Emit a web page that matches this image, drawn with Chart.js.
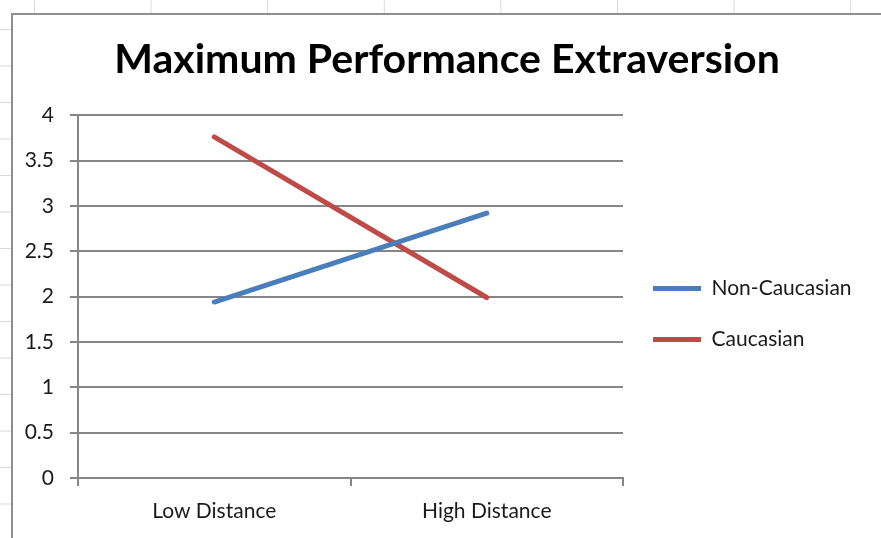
<!DOCTYPE html>
<html lang="en">
<head>
  <meta charset="UTF-8">
  <title>Maximum Performance Extraversion</title>
  <script src="https://cdn.jsdelivr.net/npm/chart.js"></script>
  <style>
    html, body {
      margin: 0;
      padding: 0;
    }

    /* spreadsheet cells behind the chart */
    body {
      width: 881px;
      height: 538px;
      overflow: hidden;
      position: relative;
      background-color: #fff;
      background-image:
        linear-gradient(to right, #d9d9d9 1px, transparent 1px),
        linear-gradient(to bottom, #d9d9d9 1px, transparent 1px);
      background-size: 116.6px 36.5px;
      background-position: 34px 29px;
    }

    .chart-box {
      position: absolute;
      left: 11px;
      top: 13px;
      width: 880px;
      height: 600px;
      background: #fff;
      border-left: 2px solid #8f8f8f;
      border-top: 2px solid #8f8f8f;
    }

    canvas {
      display: block;
    }
  </style>
</head>
<body>

<div class="chart-box">
  <canvas id="extraversionChart" width="868" height="598"></canvas>
</div>

<script>
  // values
  const categories = ['Low Distance', 'High Distance'];
  const nonCaucasian = [1.94, 2.92];
  const caucasian = [3.76, 1.99];
  const yTickValues = [0, 0.5, 1, 1.5, 2, 2.5, 3, 3.5, 4];

  const labelFont = { family: 'Lato', size: 21 };
  const gridGray = '#868686';

  // give the right-hand legend a fixed width so the plot ends where Excel's does
  const legendWidth = {
    id: 'legendWidth',
    beforeInit(chart) {
      const fit = chart.legend.fit;
      chart.legend.fit = function () {
        fit.bind(chart.legend)();
        this.width = 258;
      };
    }
  };

  const ctx = document.getElementById('extraversionChart').getContext('2d');

  new Chart(ctx, {
    type: 'line',
    data: {
      labels: categories,
      datasets: [
        {
          label: 'Non-Caucasian',
          data: nonCaucasian,
          borderColor: '#4a7ebb',
          backgroundColor: '#4a7ebb',
          borderWidth: 5,
          borderCapStyle: 'round',
          pointRadius: 0,
          tension: 0
        },
        {
          label: 'Caucasian',
          data: caucasian,
          borderColor: '#be4b48',
          backgroundColor: '#be4b48',
          borderWidth: 5,
          borderCapStyle: 'round',
          pointRadius: 0,
          tension: 0
        }
      ]
    },
    plugins: [legendWidth],
    options: {
      responsive: false,
      animation: false,
      layout: {
        padding: 0
      },
      plugins: {
        title: {
          display: true,
          text: 'Maximum Performance Extraversion',
          color: '#000',
          font: { family: 'Lato', size: 41, weight: 'bold' },
          padding: { top: 20, bottom: 31 }
        },
        legend: {
          position: 'right',
          labels: {
            usePointStyle: true,
            pointStyle: 'line',
            pointStyleWidth: 48,
            padding: 30,
            color: '#1a1a1a',
            font: labelFont
          }
        },
        tooltip: { enabled: false }
      },
      scales: {
        x: {
          offset: true,
          grid: {
            offset: true,
            drawOnChartArea: false,
            tickLength: 8,
            color: gridGray,
            lineWidth: 2
          },
          border: { color: gridGray, width: 2 },
          ticks: { padding: 13, color: '#1a1a1a', font: labelFont },
          afterFit: (scale) => { scale.height = 135; }
        },
        y: {
          min: 0,
          max: 4,
          afterBuildTicks: (axis) => {
            axis.ticks = yTickValues.map(v => ({ value: v }));
          },
          grid: {
            tickLength: 8,
            color: gridGray,
            lineWidth: 2
          },
          border: { color: gridGray, width: 2 },
          ticks: {
            padding: 16,
            color: '#1a1a1a',
            font: labelFont,
            callback: (value) => String(value)
          },
          afterFit: (scale) => { scale.width = 65; }
        }
      }
    }
  });
</script>

</body>
</html>
